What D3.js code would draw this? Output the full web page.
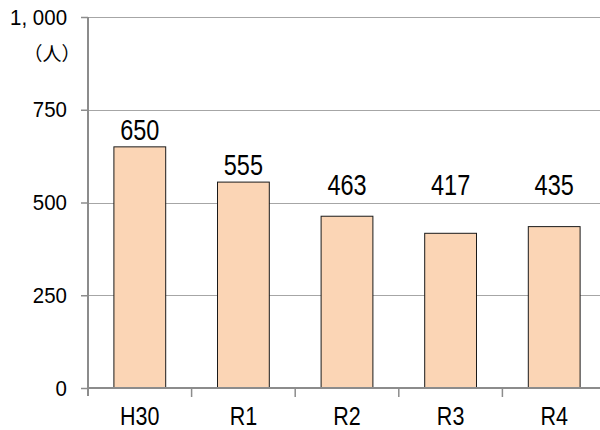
<!DOCTYPE html>
<html><head><meta charset="utf-8">
<script src="https://cdn.jsdelivr.net/npm/d3@7"></script>
<style>
html,body{margin:0;padding:0;background:#fff;}
svg{display:block;}
</style></head>
<body>
<svg id="c" width="600" height="430"></svg>
<script>
const categories = ["H30", "R1", "R2", "R3", "R4"];
const values = [650, 555, 463, 417, 435];
const yTickValues = [0, 250, 500, 750, 1000];
const yTickLabels = ["0", "250", "500", "750", "1, 000"];
const unitLabel = "（人）";

(function () {
const svg = d3.select("#c");
const pL = 88, pR = 606, pT = 17, pB = 388;
const x = d3.scaleBand().domain(categories).range([pL, pR]).paddingInner(0.5).paddingOuter(0.25);
const y = d3.scaleLinear().domain([0, 1000]).range([pB, pT]);
const font = "'Liberation Sans',Arial,sans-serif";

function condense(sel, k) {
  sel.each(function () {
    const w = this.getComputedTextLength();
    d3.select(this).attr("textLength", w * k).attr("lengthAdjust", "spacingAndGlyphs");
  });
}

// gridlines
svg.append("g").selectAll("line").data(yTickValues.filter(v => v > 0)).join("line")
  .attr("x1", pL).attr("x2", pR)
  .attr("y1", d => Math.round(y(d)) + 0.5).attr("y2", d => Math.round(y(d)) + 0.5)
  .attr("stroke", "#a6a6a6").attr("stroke-width", 1.2);

// bars
svg.append("g").selectAll("rect").data(values).join("rect")
  .attr("x", (d, i) => x(categories[i]))
  .attr("y", d => y(d))
  .attr("width", x.bandwidth())
  .attr("height", d => pB - y(d))
  .attr("fill", "#fbd5b5")
  .attr("stroke", "#1a1a1a").attr("stroke-width", 1);

// y axis
const ya = svg.append("g").attr("transform", `translate(${pL},0)`)
  .call(d3.axisLeft(y).tickValues(yTickValues).tickSize(7).tickPadding(14)
    .tickFormat((d, i) => yTickLabels[i]));
ya.select(".domain").attr("stroke", "#8c8c8c").attr("stroke-width", 2)
  .attr("d", `M0,${pT}V${pB + 8}`);
ya.selectAll(".tick line").attr("stroke", "#8c8c8c").attr("stroke-width", 1.5);
ya.selectAll(".tick text").attr("font-family", font).attr("font-size", 22).attr("fill", "#000")
  .call(condense, 0.93);

// x axis
const xa = svg.append("g").attr("transform", `translate(0,${pB})`)
  .call(d3.axisBottom(x).tickSize(0).tickPadding(19));
xa.select(".domain").attr("stroke", "#8c8c8c").attr("stroke-width", 2)
  .attr("d", `M${pL},0H${pR}`);
xa.selectAll(".tick text").attr("font-family", font).attr("font-size", 25).attr("fill", "#000")
  .call(condense, 0.86);
// category boundary ticks
svg.append("g").selectAll("line").data(categories.slice(1)).join("line")
  .attr("x1", d => x(d) - x.step() * x.paddingInner() / 2)
  .attr("x2", d => x(d) - x.step() * x.paddingInner() / 2)
  .attr("y1", pB).attr("y2", pB + 9)
  .attr("stroke", "#8c8c8c").attr("stroke-width", 1.5);

// data labels
svg.append("g").selectAll("text").data(values).join("text")
  .attr("x", (d, i) => x(categories[i]) + x.bandwidth() / 2)
  .attr("y", d => Math.min(y(d) - 7, y(520)))
  .attr("text-anchor", "middle")
  .attr("font-family", font).attr("font-size", 29).attr("fill", "#000")
  .text(d => d)
  .call(condense, 0.81);

// unit label
svg.append("text").attr("x", 52).attr("y", 61).attr("text-anchor", "middle")
  .attr("font-family", "'Noto Sans CJK JP',sans-serif").attr("font-size", 19).attr("fill", "#000")
  .text(unitLabel);
})();
</script>
</body></html>
